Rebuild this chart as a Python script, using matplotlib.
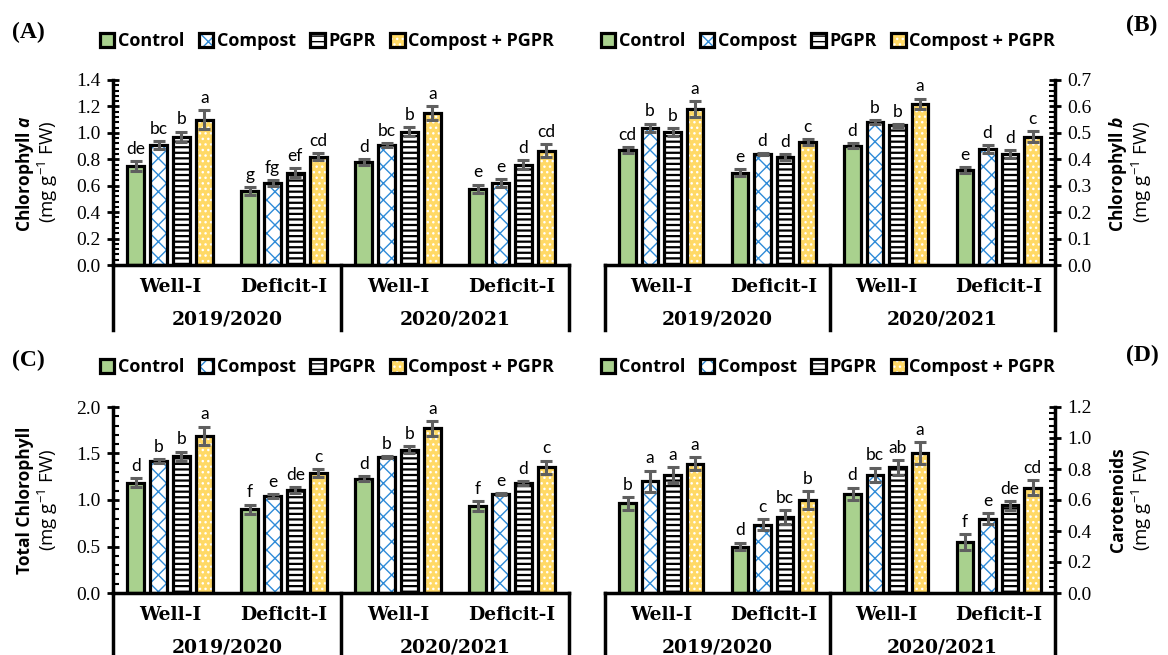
import matplotlib
matplotlib.use('Agg')
import matplotlib.pyplot as plt
import matplotlib.transforms as mtransforms
from matplotlib.patches import Patch
from matplotlib.legend_handler import HandlerTuple
from matplotlib.ticker import MultipleLocator, FormatStrFormatter
import numpy as np

plt.rcParams['mathtext.fontset'] = 'custom'
plt.rcParams['mathtext.rm'] = 'Open Sans'
plt.rcParams['mathtext.it'] = 'Open Sans:italic:bold'
plt.rcParams['mathtext.bf'] = 'Open Sans:bold'

# ---------------- data ----------------
treatments = ['Control', 'Compost', 'PGPR', 'Compost + PGPR']
irrigation = ['Well-I', 'Deficit-I', 'Well-I', 'Deficit-I']
seasons = ['2019/2020', '2020/2021']

# rows = treatments, columns = groups (2019 Well, 2019 Deficit, 2020 Well, 2020 Deficit)
chl_a_mean = [[0.75, 0.557, 0.78, 0.578],
              [0.905, 0.62, 0.91, 0.62],
              [0.97, 0.70, 1.01, 0.76],
              [1.10, 0.82, 1.15, 0.865]]
chl_a_err = [[0.035, 0.03, 0.02, 0.03],
             [0.03, 0.025, 0.015, 0.03],
             [0.04, 0.035, 0.035, 0.035],
             [0.07, 0.025, 0.055, 0.05]]
chl_a_letters = [['de', 'g', 'd', 'e'],
                 ['bc', 'fg', 'bc', 'e'],
                 ['b', 'ef', 'b', 'd'],
                 ['a', 'cd', 'a', 'cd']]

chl_b_mean = [[0.435, 0.35, 0.452, 0.36],
              [0.52, 0.42, 0.54, 0.44],
              [0.504, 0.408, 0.528, 0.42],
              [0.589, 0.466, 0.61, 0.486]]
chl_b_err = [[0.012, 0.012, 0.01, 0.01],
             [0.015, 0.005, 0.007, 0.015],
             [0.015, 0.012, 0.006, 0.015],
             [0.03, 0.012, 0.02, 0.02]]
chl_b_letters = [['cd', 'e', 'd', 'e'],
                 ['b', 'd', 'b', 'd'],
                 ['b', 'd', 'b', 'd'],
                 ['a', 'c', 'a', 'c']]

total_mean = [[1.186, 0.90, 1.23, 0.935],
              [1.42, 1.04, 1.46, 1.06],
              [1.47, 1.11, 1.54, 1.18],
              [1.69, 1.29, 1.77, 1.354]]
total_err = [[0.05, 0.05, 0.03, 0.05],
             [0.02, 0.02, 0.01, 0.01],
             [0.05, 0.03, 0.04, 0.02],
             [0.10, 0.04, 0.08, 0.07]]
total_letters = [['d', 'f', 'd', 'f'],
                 ['b', 'e', 'b', 'e'],
                 ['b', 'de', 'b', 'd'],
                 ['a', 'c', 'a', 'c']]

car_mean = [[0.578, 0.30, 0.64, 0.33],
            [0.72, 0.44, 0.764, 0.478],
            [0.76, 0.49, 0.81, 0.565],
            [0.835, 0.60, 0.905, 0.68]]
car_err = [[0.04, 0.025, 0.04, 0.05],
           [0.07, 0.035, 0.045, 0.035],
           [0.05, 0.045, 0.05, 0.03],
           [0.04, 0.06, 0.07, 0.05]]
car_letters = [['b', 'd', 'd', 'f'],
               ['a', 'c', 'bc', 'e'],
               ['a', 'bc', 'ab', 'de'],
               ['a', 'b', 'a', 'cd']]

# ---------------- style ----------------
fills = ['#A9D18E', 'white', 'white', '#FFD966']
hatches = [None, 'xx', '---', '...']
hatch_colors = ['#A9D18E', '#2E8BD8', 'black', 'white']
hatch_lw = [1.0, 1.0, 1.6, 1.0]
err_color = '#5f5f5f'
bar_w = 0.15
offsets = [-0.3, -0.1, 0.1, 0.3]

W, H = 1168, 655
fig = plt.figure(figsize=(W / 100, H / 100), dpi=100)

tick_font = dict(family='Liberation Serif', size=14)
cat_font = dict(family='DejaVu Serif', weight='bold', size=13.5)
let_font = dict(family='Lato', size=12.5)
leg_font = dict(family='Open Sans', weight='bold', size=13)


def fx(px):
    return px / W


def fy(py):
    return 1 - py / H


def draw_panel(rect, means, errs, letters, ymax, major, minor, right, cat_off, year_off, sep_len):
    ax = fig.add_axes(rect)
    x = np.arange(len(irrigation))
    for i in range(len(treatments)):
        xi = x + offsets[i]
        bg = ax.bar(xi, means[i], bar_w, color=fills[i], edgecolor=hatch_colors[i],
                    hatch=hatches[i], linewidth=0, zorder=2)
        if hasattr(bg.patches[0], 'set_hatch_linewidth'):
            for p in bg.patches:
                p.set_hatch_linewidth(hatch_lw[i])
        ax.bar(xi, means[i], bar_w, fill=False, edgecolor='black', linewidth=2.3, zorder=3)
        ax.errorbar(xi, means[i], yerr=errs[i], fmt='none', ecolor=err_color,
                    elinewidth=2.2, capsize=4.5, capthick=2.2, zorder=4)
        for xx, m, e, lab in zip(xi, means[i], errs[i], letters[i]):
            ax.annotate(lab, (xx, m + e), xytext=(0, 3), textcoords='offset points',
                        ha='center', va='bottom', **let_font)
    ax.set_xlim(-0.5, len(irrigation) - 0.5)
    ax.set_ylim(0, ymax)
    ax.yaxis.set_major_locator(MultipleLocator(major))
    ax.yaxis.set_minor_locator(MultipleLocator(minor))
    ax.yaxis.set_major_formatter(FormatStrFormatter('%.1f'))
    ax.tick_params(axis='x', bottom=False, labelbottom=False)
    ax.tick_params(axis='y', which='major', direction='inout', length=8, width=2, pad=5)
    ax.tick_params(axis='y', which='minor', direction='in', length=4, width=1.5)
    for s in ['top', 'right', 'left']:
        ax.spines[s].set_visible(False)
    ax.spines['bottom'].set_linewidth(2.5)
    if right:
        ax.yaxis.tick_right()
        ax.spines['right'].set_visible(True)
        ax.spines['right'].set_linewidth(2.5)
    else:
        ax.spines['left'].set_visible(True)
        ax.spines['left'].set_linewidth(2.5)
    for lab in ax.get_yticklabels():
        lab.set_fontfamily(tick_font['family'])
        lab.set_fontsize(tick_font['size'])
    # multi-level category axis
    trans_cat = mtransforms.offset_copy(ax.get_xaxis_transform(), fig=fig, y=-cat_off, units='dots')
    for xi, lab in zip(x, irrigation):
        ax.text(xi, 0, lab, transform=trans_cat, ha='center', va='center', **cat_font)
    trans_year = mtransforms.offset_copy(ax.get_xaxis_transform(), fig=fig, y=-year_off, units='dots')
    for k, lab in enumerate(seasons):
        ax.text(2 * k + 0.5, 0, lab, transform=trans_year, ha='center', va='center', **cat_font)
    hpx = rect[3] * H
    for sx in [-0.5, 1.5, 3.5]:
        ax.axvline(sx, ymin=-sep_len / hpx, ymax=0, color='black', linewidth=2.5, clip_on=False)
    return ax


def legend(cx, cy):
    handles = []
    for i in range(len(treatments)):
        handles.append((Patch(facecolor=fills[i], edgecolor=hatch_colors[i], hatch=hatches[i], linewidth=0),
                        Patch(facecolor='none', edgecolor='black', linewidth=2.3)))
    fig.legend(handles, treatments, loc='center', bbox_to_anchor=(fx(cx), fy(cy)), ncol=4,
               frameon=False, prop=leg_font, handlelength=0.8, handleheight=0.8,
               handletextpad=0.2, columnspacing=0.8, borderaxespad=0, borderpad=0,
               handler_map={tuple: HandlerTuple(ndivide=1, pad=0)})


def top_rect(l, r):
    return [fx(l), fy(265), fx(r) - fx(l), fy(80) - fy(265)]


def bot_rect(l, r):
    return [fx(l), fy(593), fx(r) - fx(l), fy(407) - fy(593)]


draw_panel(top_rect(113, 569), chl_a_mean, chl_a_err, chl_a_letters, 1.4, 0.2, 0.04, False, 22, 55, 65)
draw_panel(top_rect(605, 1055), chl_b_mean, chl_b_err, chl_b_letters, 0.7, 0.1, 0.02, True, 22, 55, 65)
draw_panel(bot_rect(113, 569), total_mean, total_err, total_letters, 2.0, 0.5, 0.1, False, 22, 54, 70)
draw_panel(bot_rect(605, 1055), car_mean, car_err, car_letters, 1.2, 0.2, 0.04, True, 22, 54, 70)

legend(327, 41)
legend(828, 41)
legend(327, 367)
legend(828, 367)

panel_font = dict(family='Liberation Serif', weight='bold', size=17)
fig.text(fx(28), fy(32), '(A)', ha='center', va='center', **panel_font)
fig.text(fx(1142), fy(25), '(B)', ha='center', va='center', **panel_font)
fig.text(fx(28), fy(360), '(C)', ha='center', va='center', **panel_font)
fig.text(fx(1142), fy(355), '(D)', ha='center', va='center', **panel_font)

ylab_bold = dict(family='Open Sans', weight='bold', size=12.5)
ylab_norm = dict(family='Open Sans', size=13.5)
unit = r'(mg g$^{-1}$ FW)'
fig.text(fx(25), fy(174), r'Chlorophyll $\it{a}$', rotation=90, ha='center', va='center', **ylab_bold)
fig.text(fx(48), fy(172), unit, rotation=90, ha='center', va='center', **ylab_norm)
fig.text(fx(1118), fy(174), r'Chlorophyll $\it{b}$', rotation=90, ha='center', va='center', **ylab_bold)
fig.text(fx(1142), fy(172), unit, rotation=90, ha='center', va='center', **ylab_norm)
fig.text(fx(25), fy(500), 'Total Chlorophyll', rotation=90, ha='center', va='center', **ylab_bold)
fig.text(fx(48), fy(500), unit, rotation=90, ha='center', va='center', **ylab_norm)
fig.text(fx(1118), fy(500), 'Carotenoids', rotation=90, ha='center', va='center', **ylab_bold)
fig.text(fx(1142), fy(500), unit, rotation=90, ha='center', va='center', **ylab_norm)

fig.savefig('out.png', dpi=100)
